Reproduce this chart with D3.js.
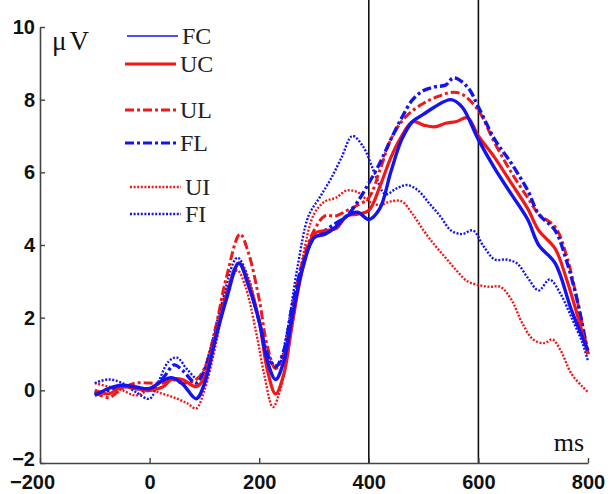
<!DOCTYPE html>
<html lang="en">
<head>
<meta charset="UTF-8">
<title>ERP waveforms</title>
<style>
  body { margin: 0; background: #fff; }
  svg { display: block; }
</style>
</head>
<body>
<script src="https://d3js.org/d3.v7.min.js"></script>
<div id="chart"></div>
<script>
// time points (ms) and amplitudes (uV)
const msFC = [-100,-75,-50,-25,0,25,40,60,85,100,120,140,163,180,200,215,230,245,260,280,300,320,340,360,380,400,420,440,460,480,500,520,550,570,600,630,660,690,710,740,770,800];
const FC   = [-0.14,0.05,0.14,0.09,0.05,0.28,0.35,0.18,-0.23,0.18,1.4,2.5,3.5,2.9,1.9,0.8,0.3,0.8,2.0,3.4,4.2,4.3,4.5,4.8,4.9,4.7,5.0,6.0,6.9,7.4,7.6,7.8,8.0,7.8,6.9,6.1,5.4,4.7,4.0,3.5,2.2,1.1];

const msUC = [-100,-75,-50,-25,0,25,40,60,85,100,120,140,163,180,200,215,230,245,260,280,300,320,340,360,380,400,420,440,460,480,500,520,540,560,580,600,630,660,690,710,740,760,780,800];
const UC   = [0,-0.1,0.1,0.05,0,0.1,0.3,0.3,0.1,0.35,1.5,2.6,3.5,3.0,1.9,0.55,-0.1,0.45,1.8,3.4,4.3,4.4,4.45,4.8,4.85,4.95,5.6,6.4,7.0,7.4,7.3,7.25,7.35,7.4,7.5,7.0,6.4,5.7,5.0,4.4,3.9,3.1,2.1,1.0];

const msUL = [-100,-75,-50,-25,0,25,40,60,85,100,120,140,165,180,200,215,230,245,260,280,300,320,340,360,380,400,420,440,460,480,500,520,550,570,600,630,660,690,710,740,760,780,800];
const UL   = [-0.05,-0.2,0.05,0.2,0.2,0.2,0.3,0.2,0.3,0.6,1.7,3.1,4.3,3.8,2.5,1.2,0.6,1.0,2.2,3.6,4.4,4.8,4.8,4.95,5.1,5.3,6.05,6.9,7.4,7.7,7.9,8.05,8.2,8.15,7.7,6.8,6.0,5.3,4.85,4.5,3.75,2.5,1.0];

const msFL = [-100,-75,-50,-25,0,25,45,60,85,100,120,140,163,180,200,215,230,245,260,280,300,320,340,360,380,400,420,440,460,480,500,520,540,555,580,600,630,660,690,710,740,760,780,800];
const FL   = [-0.1,0,0.1,0.05,0,0.35,0.7,0.55,0.2,0.55,1.55,2.65,3.5,2.95,1.9,1.0,0.65,1.1,2.3,3.5,4.2,4.4,4.6,4.8,5.2,5.7,6.25,6.9,7.5,8.0,8.25,8.35,8.4,8.6,8.35,7.8,6.9,6.25,5.5,4.85,4.4,3.6,2.5,1.0];

const msUI = [-100,-75,-50,-25,0,25,50,70,85,100,120,140,160,175,195,210,225,240,260,280,300,320,340,360,380,400,420,440,460,480,500,520,540,560,580,600,620,640,660,680,700,720,735,750,770,790,800];
const UI   = [0.2,0.1,0,-0.14,0,-0.1,-0.23,-0.37,-0.5,0,1.2,2.65,3.3,2.85,1.55,0.37,-0.46,0.1,1.75,3.7,4.85,5.2,5.3,5.5,5.45,5.2,5.1,5.2,5.2,4.85,4.4,4.0,3.65,3.3,3.0,2.9,2.85,2.85,2.5,1.85,1.4,1.3,1.4,1.1,0.45,0.1,-0.05];

const msFI = [-100,-75,-50,-25,0,15,35,50,70,90,110,130,160,180,200,220,235,250,270,290,310,330,350,370,390,410,430,450,470,490,510,530,550,570,590,610,630,650,670,690,710,730,750,770,790,800];
const FI   = [0.2,0.3,0.2,-0.05,-0.23,0.2,0.8,0.9,0.55,0.3,1.1,2.3,3.65,3.1,1.9,0.8,0.7,1.55,3.4,4.8,5.3,5.8,6.4,7.0,6.7,6.0,5.4,5.55,5.65,5.5,5.15,4.8,4.4,4.3,4.4,3.95,3.6,3.6,3.5,3.1,2.75,3.05,2.65,2.0,1.3,0.8];

const xTicks = [-200, 0, 200, 400, 600, 800];
const yTicks = [-2, 0, 2, 4, 6, 8, 10];
const markers = [400, 600];

const width = 610, height = 494;
const blue = "#1414f0", red = "#f01818";

// drawing order: dotted first, solid on top
const series = [
  { name: "UI", ms: msUI, v: UI, color: red,  w: 2.4, dash: "2,1.6" },
  { name: "FI", ms: msFI, v: FI, color: blue, w: 2.4, dash: "2,1.6" },
  { name: "UL", ms: msUL, v: UL, color: red,  w: 3,   dash: "9,3,3,3" },
  { name: "FL", ms: msFL, v: FL, color: blue, w: 3.4, dash: "9,3,3,3" },
  { name: "UC", ms: msUC, v: UC, color: red,  w: 3.2, dash: null },
  { name: "FC", ms: msFC, v: FC, color: blue, w: 3.4, dash: null }
];

const svg = d3.select("#chart").append("svg")
  .attr("width", width).attr("height", height);

const x = d3.scaleLinear().domain([-200, 800]).range([40, 588]);
const y = d3.scaleLinear().domain([-2, 10]).range([463, 27]);

// vertical markers at 400 and 600 ms
svg.selectAll(".marker").data(markers).enter().append("line")
  .attr("x1", d => x(d)).attr("x2", d => x(d))
  .attr("y1", 0).attr("y2", y(-2))
  .attr("stroke", "#111").attr("stroke-width", 1.6);

const line = d3.line().curve(d3.curveCatmullRom.alpha(0.5));

svg.selectAll(".wave").data(series).enter().append("path")
  .attr("d", s => line(s.ms.map((m, i) => [x(m), y(s.v[i])])))
  .attr("fill", "none")
  .attr("stroke", s => s.color)
  .attr("stroke-width", s => s.w)
  .attr("stroke-dasharray", s => s.dash)
  .attr("stroke-linejoin", "round");

// axes, ticks pointing inward
const xAxis = d3.axisBottom(x).tickValues(xTicks).tickSizeInner(-5).tickSizeOuter(0).tickPadding(8);
const yAxis = d3.axisLeft(y).tickValues(yTicks).tickSizeInner(-5).tickSizeOuter(0).tickPadding(6);

const gx = svg.append("g").attr("transform", `translate(0,${y(-2)})`).call(xAxis);
const gy = svg.append("g").attr("transform", `translate(${x(-200)},0)`).call(yAxis);

[gx, gy].forEach(g => {
  g.select(".domain").attr("stroke", "#444").attr("stroke-width", 1.6);
  g.selectAll(".tick line").attr("stroke", "#444").attr("stroke-width", 1.4);
  g.selectAll(".tick text")
    .attr("fill", "#111")
    .style("font-family", "'Liberation Sans', Arial, sans-serif")
    .style("font-weight", "bold")
    .style("font-size", "20px");
});
gx.selectAll(".tick text").attr("dy", "0.9em")
  .attr("dx", d => d === -200 ? -8 : 0);
gy.selectAll(".tick text").attr("x", -5)
  .attr("dy", d => d === -2 ? "0.1em" : "0.32em");

// unit labels
svg.append("text").attr("x", 52).attr("y", 50)
  .style("font-family", "'Liberation Serif', 'Times New Roman', serif")
  .style("font-size", "27px").style("letter-spacing", "3px")
  .attr("fill", "#111").text("μV");
svg.append("text").attr("x", 584).attr("y", 451).attr("text-anchor", "end")
  .style("font-family", "'Liberation Serif', 'Times New Roman', serif")
  .style("font-size", "26px").attr("fill", "#111").text("ms");

// legend
const legendNames = ["FC", "UC", "UL", "FL", "UI", "FI"];
const legendY = [36, 64, 110, 143, 187, 214];
const legendX = [127, 125, 125, 125, 130, 130];
const legendW = [1.6, 3.2, 3, 3, 2.4, 2.4];
const legend = svg.append("g");
legendNames.forEach((n, i) => {
  const s = series.find(d => d.name === n);
  legend.append("line")
    .attr("x1", legendX[i]).attr("x2", legendX[i] + 51)
    .attr("y1", legendY[i]).attr("y2", legendY[i])
    .attr("stroke", s.color).attr("stroke-width", legendW[i])
    .attr("stroke-dasharray", s.dash);
  legend.append("text")
    .attr("x", legendX[i] + 55).attr("y", legendY[i] + 8)
    .style("font-family", "'Liberation Serif', 'Times New Roman', serif")
    .style("font-size", "24px").attr("fill", "#222").text(n);
});
</script>
</body>
</html>
